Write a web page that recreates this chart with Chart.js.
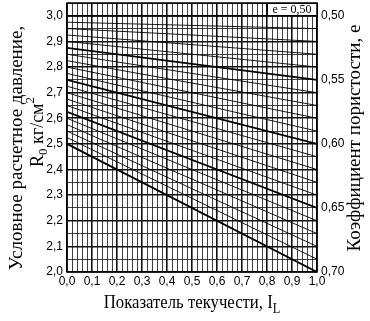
<!DOCTYPE html>
<html>
<head>
<meta charset="utf-8">
<script src="https://cdn.jsdelivr.net/npm/chart.js@4/dist/chart.umd.min.js"></script>
<style>
html, body { margin: 0; padding: 0; background: #fff; }
#wrap { width: 370px; height: 321px; }
</style>
</head>
<body>
<div id="wrap"><canvas id="chart" width="370" height="321"></canvas></div>
<script>
// Lines of constant void ratio e: R0 at IL = 0 and at IL = 1 (kg/cm2)
const eValues = [0.50, 0.51, 0.52, 0.53, 0.54, 0.55, 0.56, 0.57, 0.58, 0.59, 0.60,
                 0.61, 0.62, 0.63, 0.64, 0.65, 0.66, 0.67, 0.68, 0.69, 0.70];
const rAtIL0 = [3.000, 2.975, 2.950, 2.925, 2.900, 2.875, 2.850, 2.825, 2.800, 2.775, 2.750,
                2.725, 2.700, 2.675, 2.650, 2.625, 2.600, 2.575, 2.550, 2.525, 2.500];
const rAtIL1 = [3.00, 2.95, 2.90, 2.85, 2.80, 2.75, 2.70, 2.65, 2.60, 2.55, 2.50,
                2.45, 2.40, 2.35, 2.30, 2.25, 2.20, 2.15, 2.10, 2.05, 2.00];
// e values drawn as heavy lines
const heavyE = [0.50, 0.55, 0.60, 0.65, 0.70];

// Tick labels
const ilTicks = [0.0, 0.1, 0.2, 0.3, 0.4, 0.5, 0.6, 0.7, 0.8, 0.9, 1.0];
const rTicks = [2.0, 2.1, 2.2, 2.3, 2.4, 2.5, 2.6, 2.7, 2.8, 2.9, 3.0];
const eTicks = [0.50, 0.55, 0.60, 0.65, 0.70];

const serif = '"Liberation Serif", "DejaVu Serif", serif';
const narrow = '"Liberation Sans Narrow", "Liberation Sans", sans-serif';

function comma(v, d) {
    return v.toFixed(d).replace('.', ',');
}

function isLabelled(list, v) {
    return list.some(function(t) { return Math.abs(t - v) < 1e-6; });
}

// one dataset per e line
const datasets = eValues.map(function(e, i) {
    const heavy = isLabelled(heavyE, e);
    return {
        label: 'e = ' + comma(e, 2),
        data: [{ x: 0, y: rAtIL0[i] }, { x: 1, y: rAtIL1[i] }],
        borderColor: '#000',
        borderWidth: heavy ? 1.8 : 0.9,
        pointRadius: 0,
        fill: false
    };
});

function gridWidth(step) {
    return function(ctx) {
        if (!ctx.tick) return 0.8;
        const n = Math.round(ctx.tick.value * 100);
        return n % step === 0 ? 1.6 : 0.8;
    };
}

// titles, frame and the e = 0,50 box
const decorPlugin = {
    id: 'decor',
    afterDatasetsDraw: function(chart) {
        const ctx = chart.ctx;
        const a = chart.chartArea;
        ctx.save();

        // box in top right corner
        ctx.fillStyle = '#fff';
        ctx.fillRect(a.right - 50, a.top, 50, 12);
        ctx.strokeStyle = '#000';
        ctx.lineWidth = 1;
        ctx.strokeRect(a.right - 50 + 0.5, a.top + 0.5, 50, 12);
        ctx.fillStyle = '#000';
        ctx.font = '12px ' + serif;
        ctx.textAlign = 'center';
        ctx.textBaseline = 'middle';
        ctx.fillText('e = 0,50', a.right - 25, a.top + 6.5);

        // frame
        ctx.lineWidth = 1.5;
        ctx.strokeRect(a.left, a.top, a.right - a.left, a.bottom - a.top);

        // x title with subscript L
        ctx.textAlign = 'left';
        ctx.textBaseline = 'alphabetic';
        ctx.save();
        ctx.translate(192, 308);
        ctx.scale(0.88, 1);
        ctx.font = '19px ' + serif;
        const xt = 'Показатель текучести, I';
        const w1 = ctx.measureText(xt).width;
        ctx.font = '14px ' + serif;
        const w2 = ctx.measureText('L').width;
        let x0 = -(w1 + w2) / 2;
        ctx.font = '19px ' + serif;
        ctx.fillText(xt, x0, 0);
        ctx.font = '14px ' + serif;
        ctx.fillText('L', x0 + w1, 5);
        ctx.restore();

        // left title, two rotated lines
        ctx.save();
        ctx.translate(22, 148);
        ctx.rotate(-Math.PI / 2);
        ctx.font = '19px ' + serif;
        ctx.textAlign = 'center';
        ctx.fillText('Условное расчетное давление,', 0, 0);
        ctx.restore();

        ctx.save();
        ctx.translate(43, 132);
        ctx.rotate(-Math.PI / 2);
        ctx.textAlign = 'left';
        ctx.font = '18px ' + serif;
        const p1 = 'R';
        const p3 = ' кг/см';
        const wp1 = ctx.measureText(p1).width;
        const wp3 = ctx.measureText(p3).width;
        ctx.font = '13px ' + serif;
        const wp2 = ctx.measureText('0').width;
        const wp4 = ctx.measureText('2').width;
        let s = -(wp1 + wp2 + wp3 + wp4) / 2;
        ctx.font = '18px ' + serif;
        ctx.fillText(p1, s, 0);
        ctx.font = '13px ' + serif;
        ctx.fillText('0', s + wp1, 4);
        ctx.font = '18px ' + serif;
        ctx.fillText(p3, s + wp1 + wp2, 0);
        ctx.font = '13px ' + serif;
        ctx.fillText('2', s + wp1 + wp2 + wp3, -9);
        ctx.restore();

        // right title
        ctx.save();
        ctx.translate(360, 138);
        ctx.rotate(-Math.PI / 2);
        ctx.font = '19px ' + serif;
        ctx.textAlign = 'center';
        ctx.fillText('Коэффициент пористости, e', 0, 0);
        ctx.restore();

        ctx.restore();
    }
};

function fixWidth(w) {
    return function(scale) {
        scale.width = w;
        scale.paddingTop = 0;
        scale.paddingBottom = 0;
    };
}

new Chart(document.getElementById('chart'), {
    type: 'line',
    data: { datasets: datasets },
    options: {
        responsive: false,
        animation: false,
        layout: { padding: { top: 3, left: 0, right: 0, bottom: 0 } },
        plugins: {
            legend: { display: false },
            tooltip: { enabled: false }
        },
        scales: {
            x: {
                type: 'linear',
                min: 0,
                max: 1,
                afterFit: function(scale) {
                    scale.height = 49;
                    scale.paddingLeft = 0;
                    scale.paddingRight = 0;
                },
                grid: {
                    color: '#111',
                    lineWidth: gridWidth(10),
                    drawTicks: false
                },
                border: { display: false },
                ticks: {
                    stepSize: 0.02,
                    autoSkip: false,
                    maxRotation: 0,
                    padding: 2,
                    color: '#000',
                    font: { family: narrow, size: 12 },
                    callback: function(v) {
                        return isLabelled(ilTicks, v) ? comma(v, 1) : '';
                    }
                }
            },
            y: {
                type: 'linear',
                position: 'left',
                min: 2.0,
                max: 3.05,
                afterFit: fixWidth(67),
                grid: {
                    color: '#111',
                    lineWidth: gridWidth(10),
                    drawTicks: false
                },
                border: { display: false },
                ticks: {
                    stepSize: 0.05,
                    autoSkip: false,
                    padding: 4,
                    color: '#000',
                    font: { family: narrow, size: 12 },
                    callback: function(v) {
                        return isLabelled(rTicks, v) ? comma(v, 1) : '';
                    }
                }
            },
            e: {
                type: 'linear',
                position: 'right',
                min: 0.49,
                max: 0.70,
                reverse: true,
                afterFit: fixWidth(53),
                afterBuildTicks: function(scale) {
                    scale.ticks = eTicks.map(function(v) { return { value: v }; });
                },
                grid: { display: false, drawTicks: false },
                border: { display: false },
                ticks: {
                    autoSkip: false,
                    padding: 4,
                    color: '#000',
                    font: { family: narrow, size: 12 },
                    callback: function(v) { return comma(v, 2); }
                }
            }
        }
    },
    plugins: [decorPlugin]
});
</script>
</body>
</html>
